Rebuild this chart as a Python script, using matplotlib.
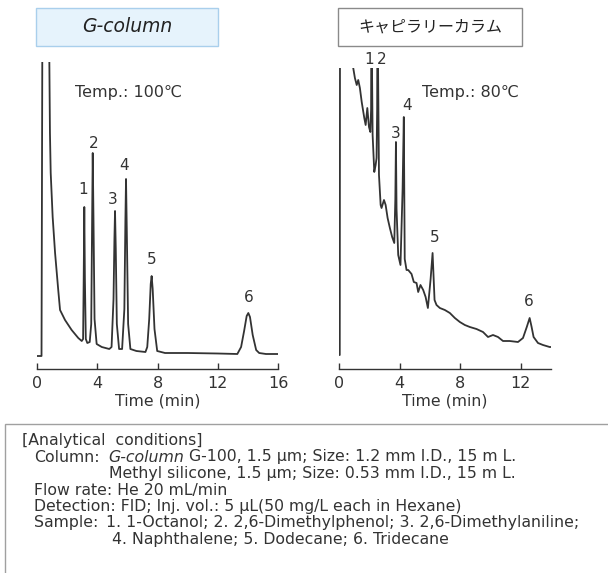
import matplotlib
matplotlib.use('Agg')
from matplotlib import pyplot as plt
from matplotlib.patches import Rectangle

plt.rcParams['font.family'] = ['DejaVu Sans', 'Noto Sans CJK JP']

# G-column chromatogram (time in min, detector signal in arbitrary units)
g_time = [0.00, 0.30, 0.37, 0.40, 0.60, 0.80, 0.82, 0.86, 0.91, 1.04, 1.20, 1.41,
          1.53, 1.86, 2.30, 2.74, 2.97, 3.06, 3.10, 3.14, 3.18, 3.24, 3.34, 3.50,
          3.60, 3.66, 3.70, 3.75, 3.82, 3.96, 4.30, 4.80, 4.95, 5.08, 5.14, 5.18,
          5.23, 5.30, 5.45, 5.65, 5.80, 5.87, 5.91, 5.96, 6.05, 6.20, 6.60, 7.20,
          7.32, 7.45, 7.55, 7.61, 7.68, 7.80, 7.98, 8.50, 10.0, 12.0, 13.30, 13.55,
          13.75, 13.92, 14.03, 14.14, 14.32, 14.55, 14.75, 15.2, 16.0]
g_signal = [13, 13, 420, 430, 430, 380, 307, 236, 196, 152, 116, 79,
            59, 49, 39, 31, 28, 30, 90, 162, 90, 30, 26, 27,
            45, 150, 216, 150, 50, 25, 22, 20, 22, 70, 130, 158,
            120, 45, 20, 20, 60, 150, 190, 140, 45, 20, 18, 17,
            22, 50, 85, 93, 80, 40, 18, 16, 16, 15.5, 15, 22,
            38, 53, 56, 52, 34, 19, 16, 15, 15]

# capillary column chromatogram
c_time = [0.00, 0.05, 0.07, 0.10, 0.90, 0.94, 1.05, 1.17, 1.27, 1.38, 1.50, 1.67,
          1.76, 1.87, 1.98, 2.07, 2.12, 2.15, 2.18, 2.22, 2.33, 2.42, 2.48, 2.52,
          2.55, 2.58, 2.64, 2.75, 2.81, 2.97, 3.08, 3.21, 3.36, 3.51, 3.65, 3.72,
          3.76, 3.80, 3.91, 4.06, 4.20, 4.28, 4.34, 4.46, 4.57, 4.79, 4.94, 5.12,
          5.23, 5.38, 5.56, 5.72, 5.87, 6.05, 6.18, 6.31, 6.44, 6.66, 6.99, 7.32,
          7.65, 7.98, 8.31, 8.64, 9.08, 9.51, 9.84, 10.17, 10.50, 10.83, 11.27, 11.82,
          12.15, 12.40, 12.59, 12.72, 12.85, 13.14, 13.47, 13.91, 14.0]
c_signal = [14, 14, 420, 430, 430, 301, 291, 284, 289, 281, 267, 251,
            244, 261, 242, 237, 260, 420, 300, 234, 197, 204, 211, 260,
            420, 300, 194, 164, 161, 169, 164, 151, 141, 132, 126, 170,
            227, 160, 114, 104, 180, 252, 110, 99, 99, 95, 87, 86,
            77, 84, 79, 72, 61, 90, 116, 69, 64, 61, 59, 56,
            51, 47, 44, 42, 40, 37, 32, 34, 32, 28, 28, 27,
            31, 42, 51, 42, 32, 26, 24, 22, 22]

peak_names = ['1', '2', '3', '4', '5', '6']
g_label_t = [3.05, 3.78, 5.05, 5.78, 7.64, 14.08]
g_label_v = [179, 226, 169, 204, 109, 72]
c_label_t = [2.02, 2.85, 3.76, 4.48, 6.33, 12.52]
c_label_v = [309, 309, 236, 264, 131, 67]

g_ticks = [0, 4, 8, 12, 16]
c_ticks = [0, 4, 8, 12]

titles = ['G-column', 'キャピラリーカラム']
temps = ['Temp.: 100℃', 'Temp.: 80℃']

cond_head = '[Analytical  conditions]'
col_label = 'Column:'
col_italic = 'G-column'
col_rest = ' G-100, 1.5 µm; Size: 1.2 mm I.D., 15 m L.'
col_line2 = 'Methyl silicone, 1.5 µm; Size: 0.53 mm I.D., 15 m L.'
flow_line = 'Flow rate: He 20 mL/min'
det_line = 'Detection: FID; Inj. vol.: 5 µL(50 mg/L each in Hexane)'
smp_label = 'Sample:'
smp_line1 = '1. 1-Octanol; 2. 2,6-Dimethylphenol; 3. 2,6-Dimethylaniline;'
smp_line2 = '4. Naphthalene; 5. Dodecane; 6. Tridecane'

W, H = 608, 573
txt = '#333333'
fig = plt.figure(figsize=(W / 100, H / 100), dpi=100)


def px(x0, y0, x1, y1):
    # pixel box (top-left origin) -> figure fraction rect
    return [x0 / W, 1 - y1 / H, (x1 - x0) / W, (y1 - y0) / H]


ax1 = fig.add_axes(px(37, 62, 278, 369))
ax2 = fig.add_axes(px(339, 68, 551, 369))

for ax, t, s, xmax, ymax, ticks in [(ax1, g_time, g_signal, 16, 307, g_ticks),
                                    (ax2, c_time, c_signal, 14, 301, c_ticks)]:
    ax.plot(t, s, color='#333333', lw=1.3, solid_joinstyle='round')
    ax.set_xlim(0, xmax)
    ax.set_ylim(0, ymax)
    for sp in ['left', 'right', 'top']:
        ax.spines[sp].set_visible(False)
    ax.spines['bottom'].set_color('#333333')
    ax.spines['bottom'].set_linewidth(1.0)
    ax.set_yticks([])
    ax.set_xticks(ticks)
    ax.tick_params(axis='x', direction='in', length=4, width=1.0, color='#333333',
                   labelsize=11.5, labelcolor=txt, pad=5)
    ax.set_xlabel('Time (min)', fontsize=11.3, color=txt, labelpad=2)
    ax.patch.set_visible(False)

for name, tt, vv in zip(peak_names, g_label_t, g_label_v):
    ax1.text(tt, vv, name, ha='center', va='center', fontsize=11, color=txt)
for name, tt, vv in zip(peak_names, c_label_t, c_label_v):
    ax2.text(tt, vv, name, ha='center', va='center', fontsize=11, color=txt,
             clip_on=False)

ax1.text(2.52, 277, temps[0], ha='left', va='center', fontsize=11.5, color=txt)
ax2.text(5.47, 277, temps[1], ha='left', va='center', fontsize=11.5, color=txt)

# title boxes
fig.patches.append(Rectangle(px(36, 8, 218, 46)[:2], 182 / W, 38 / H,
                             transform=fig.transFigure, facecolor='#e6f3fc',
                             edgecolor='#a9cfec', lw=1.0))
fig.patches.append(Rectangle(px(338, 8, 522, 46)[:2], 184 / W, 38 / H,
                             transform=fig.transFigure, facecolor='white',
                             edgecolor='#8a8a8a', lw=1.0))
fig.text(127 / W, 1 - 27 / H, titles[0], ha='center', va='center',
         fontsize=13.5, style='italic', color='#222222')
fig.text(430 / W, 1 - 27 / H, titles[1], ha='center', va='center',
         fontsize=11.5, family=['Noto Sans CJK JP', 'DejaVu Sans'], color='#222222')

# analytical conditions box (open at right and bottom)
fig.patches.append(Rectangle((5 / W, -0.1), 1.2, (H - 424) / H + 0.1,
                             transform=fig.transFigure, fill=False,
                             edgecolor='#a0a0a0', lw=1.0))

fs = 11.3
ys = [441, 457.5, 474, 490.5, 507, 523.5, 540]


def ftext(x, y, s, **kw):
    return fig.text(x / W, 1 - y / H, s, ha='left', va='baseline',
                    fontsize=fs, color=txt, **kw)


base = 4  # centre -> baseline offset in px
ftext(22, ys[0] + base, cond_head)
lab_col = ftext(34, ys[1] + base, col_label)
ftext(34, ys[3] + base, flow_line)
ftext(34, ys[4] + base, det_line)
lab_smp = ftext(34, ys[5] + base, smp_label)

# measure label widths to place the values after them
fig.canvas.draw()
r = fig.canvas.get_renderer()
col_end = lab_col.get_window_extent(r).x1
smp_end = lab_smp.get_window_extent(r).x1
gcol = ftext(col_end + 9, ys[1] + base, col_italic, style='italic')
fig.canvas.draw()
gcol_end = gcol.get_window_extent(r).x1
ftext(gcol_end, ys[1] + base, col_rest)
ftext(col_end + 9, ys[2] + base, col_line2)
ftext(smp_end + 8, ys[5] + base, smp_line1)
ftext(smp_end + 14, ys[6] + base, smp_line2)

fig.savefig('out.png', dpi=100)
